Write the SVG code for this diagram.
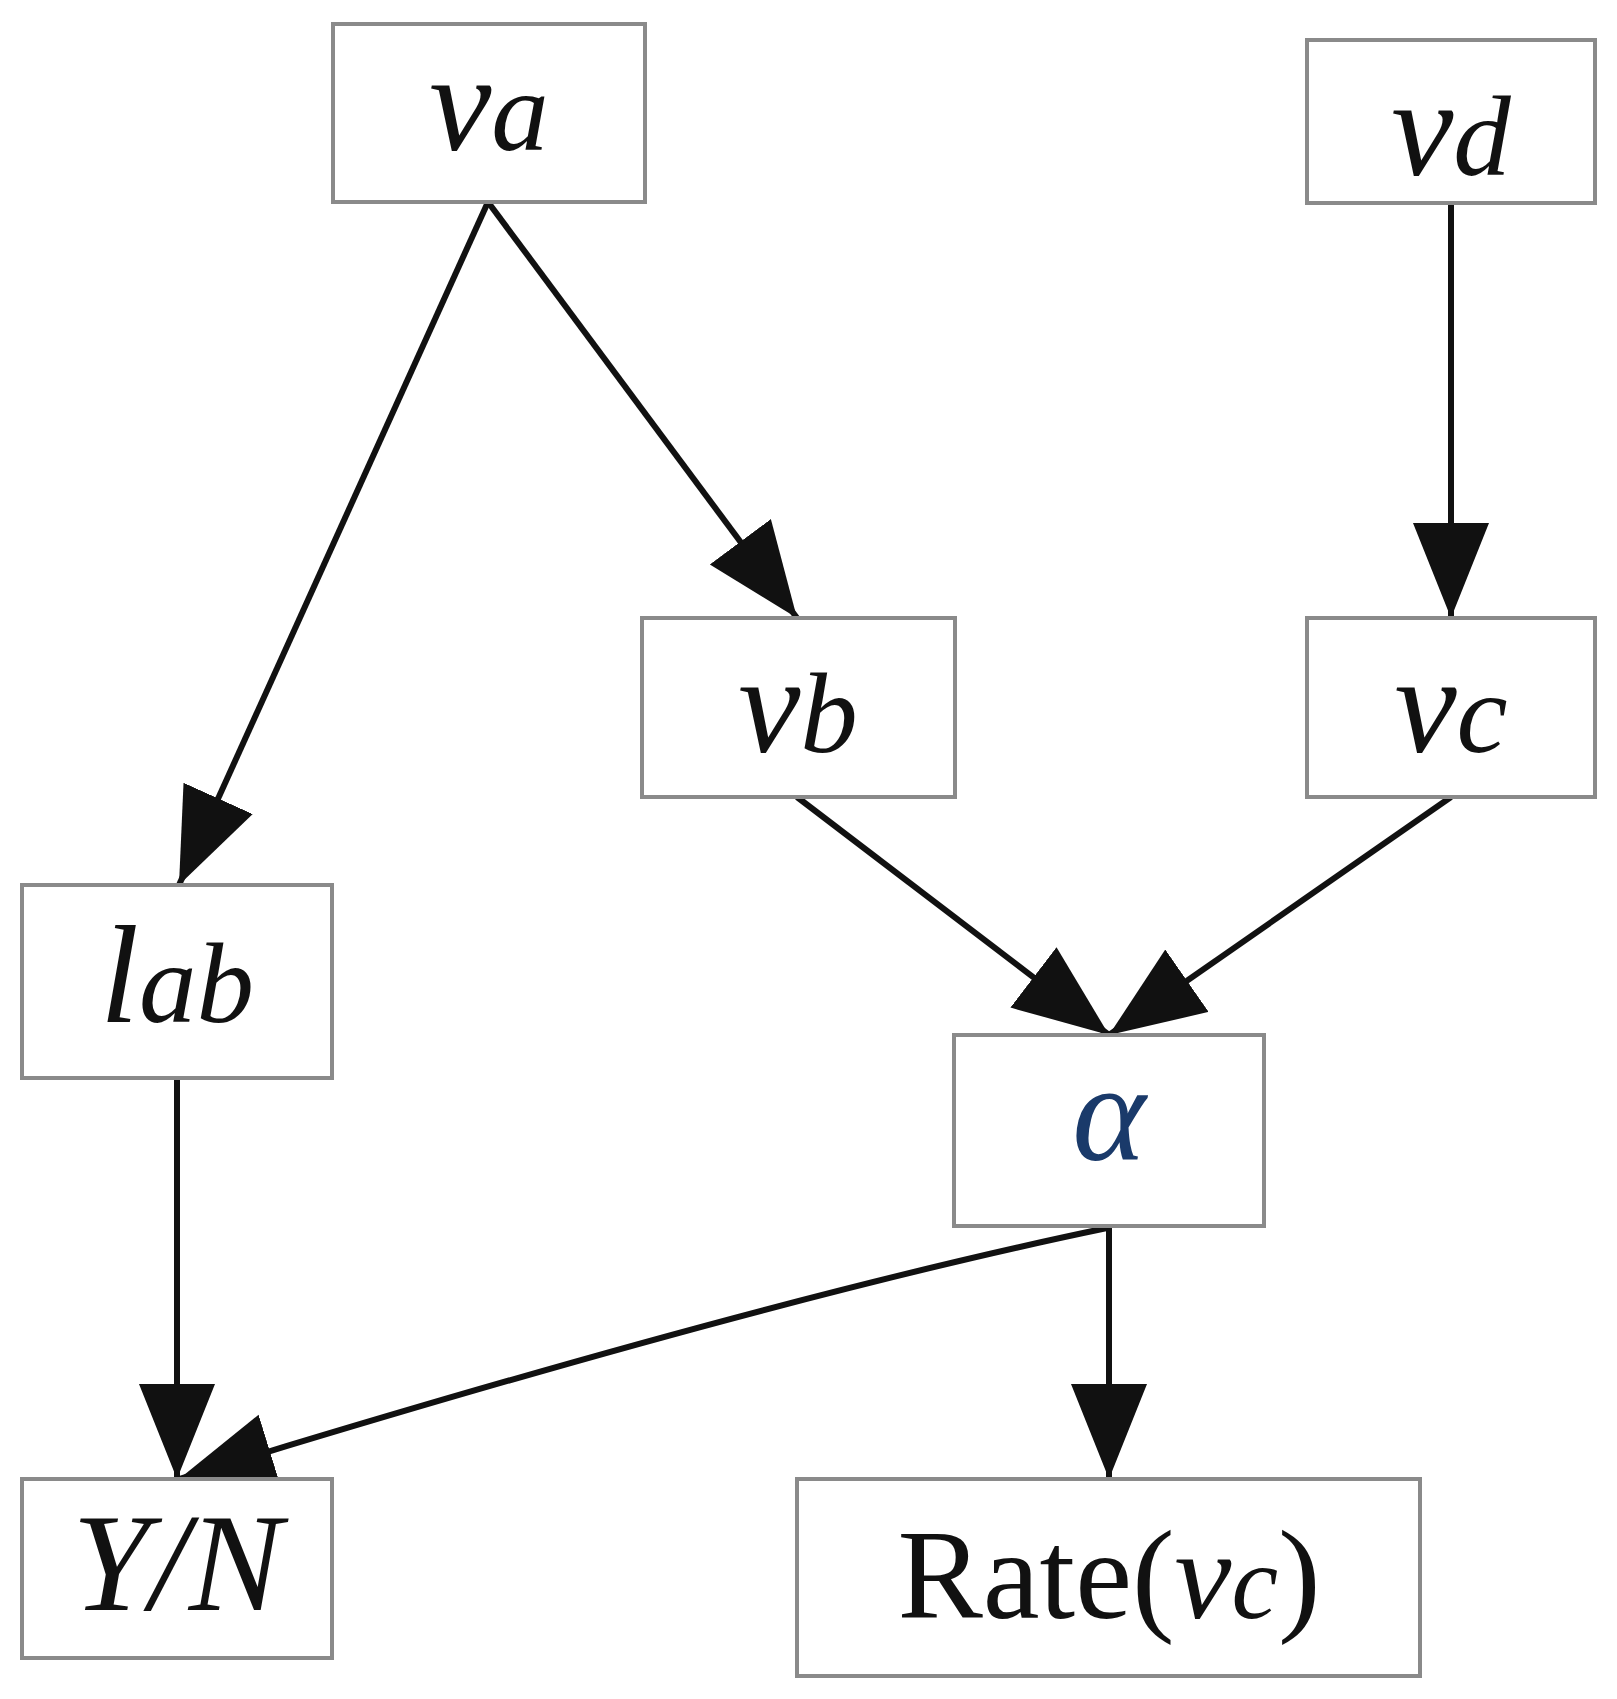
<svg xmlns="http://www.w3.org/2000/svg" width="1617" height="1699" viewBox="0 0 1617 1699">
<style>
.b{fill:#fff;stroke:#8a8a8a;stroke-width:4}
.t{font-family:"Liberation Serif",serif;font-style:italic;font-size:140px;fill:#111;text-anchor:middle}
.s{font-size:115px}
.c{fill:none;stroke:#111;stroke-width:6}
</style>
<defs><marker id="a" markerUnits="userSpaceOnUse" markerWidth="100" markerHeight="80" refX="95" refY="38" orient="auto"><path d="M0,0L95,38L0,76Z" fill="#111"/></marker></defs>
<rect width="1617" height="1699" fill="#fff"/>
<g id="connectors">
<path class="c" marker-end="url(#a)" d="M488,202L179,885"/>
<path class="c" marker-end="url(#a)" d="M488,202L797,618"/>
<path class="c" marker-end="url(#a)" d="M1451,203L1451,618"/>
<path class="c" marker-end="url(#a)" d="M797,797L1109,1035"/>
<path class="c" marker-end="url(#a)" d="M1451,797L1109,1035"/>
<path class="c" marker-end="url(#a)" d="M177,1078L177,1479"/>
<path class="c" marker-end="url(#a)" d="M1109,1226L1109,1479"/>
<path class="c" marker-end="url(#a)" d="M1107,1228Q760,1300 179,1479"/>
</g>
<g id="va"><rect class="b" x="333" y="24" width="312" height="178"/><text class="t" x="489" y="150">v<tspan class="s">a</tspan></text></g>
<g id="vd"><rect class="b" x="1307" y="40" width="288" height="163"/><text class="t" x="1451" y="175">v<tspan class="s">d</tspan></text></g>
<g id="vb"><rect class="b" x="642" y="618" width="313" height="179"/><text class="t" x="798" y="752">v<tspan class="s">b</tspan></text></g>
<g id="vc"><rect class="b" x="1307" y="618" width="288" height="179"/><text class="t" x="1451" y="752">v<tspan class="s">c</tspan></text></g>
<g id="lab"><rect class="b" x="22" y="885" width="310" height="193"/><text class="t" x="177" y="1022">l<tspan class="s">ab</tspan></text></g>
<g id="alpha"><rect class="b" x="954" y="1035" width="310" height="191"/><text class="t" x="1109" y="1160" style="fill:#1a3a6a">α</text></g>
<g id="yn"><rect class="b" x="22" y="1479" width="310" height="179"/><text class="t" x="177" y="1610">Y/N</text></g>
<g id="rate"><rect class="b" x="797" y="1479" width="623" height="197"/><text class="t" x="1109" y="1618" style="font-style:normal;font-size:128px">Rate(<tspan style="font-style:italic">v</tspan><tspan class="s" style="font-style:italic;font-size:105px">c</tspan>)</text></g>
</svg>
